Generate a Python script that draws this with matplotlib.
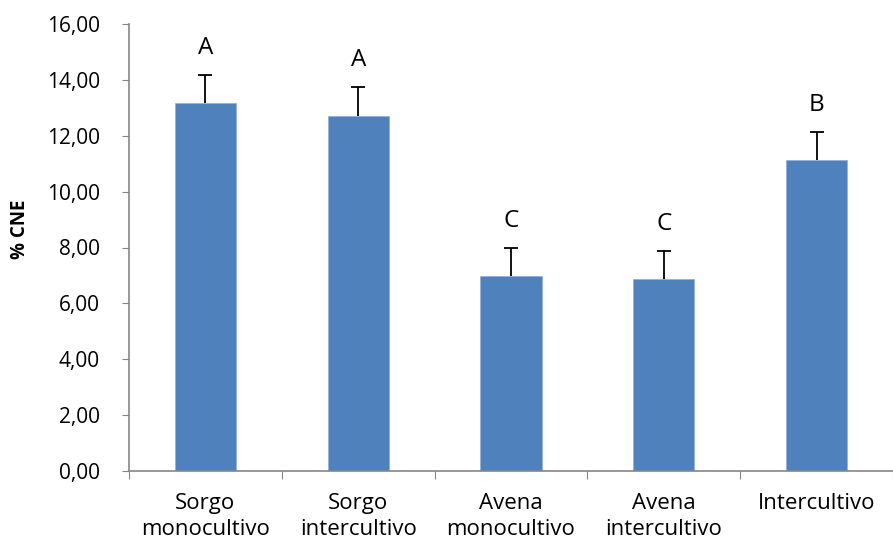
import numpy as np
import matplotlib.pyplot as plt

categorias = ['Sorgo\nmonocultivo', 'Sorgo\nintercultivo', 'Avena\nmonocultivo',
              'Avena\nintercultivo', 'Intercultivo']
valores = [13.17, 12.72, 6.99, 6.88, 11.13]
errores = [1.00, 1.02, 1.00, 1.00, 1.02]
letras = ['A', 'A', 'C', 'C', 'B']

plt.rcParams['font.family'] = ['Open Sans', 'DejaVu Sans']
gris = '#868686'

fig = plt.figure(figsize=(8.93, 5.49), dpi=100)
ax = fig.add_axes([129/893, 78/549, (893-129)/893, (471-24)/549])

x = np.arange(len(categorias))
ax.bar(x, valores, width=0.4, color='#4f81bd', edgecolor='#95b3d7', linewidth=0.6, zorder=2)
eb = ax.errorbar(x, valores, yerr=[np.zeros(len(x)), errores], fmt='none',
                 ecolor='black', elinewidth=1.3, capsize=5, capthick=1.3, zorder=3)
# solo la barra de error superior
eb[1][0].set_visible(False)

for xi, v, e, l in zip(x, valores, errores, letras):
    ax.text(xi, v + e + 0.75, l, ha='center', va='baseline', fontsize=17.5)

ax.set_xlim(-0.5, len(x) - 0.5)
ax.set_ylim(0, 16)
ax.set_yticks(np.arange(0, 17, 2))
ax.set_yticklabels([f'{t:.2f}'.replace('.', ',') for t in np.arange(0, 17, 2)], fontsize=15)
ax.set_xticks(np.arange(-0.5, len(x), 1))
ax.set_xticklabels([])
ax.set_xticks(x, minor=True)
ax.set_xticklabels(categorias, minor=True, fontsize=16)
ax.tick_params(axis='x', which='minor', length=0, pad=16)
ax.tick_params(axis='x', which='major', length=6, color=gris, direction='out')
ax.tick_params(axis='y', length=5, color=gris, direction='out', pad=16)
for lbl in ax.get_xticklabels(minor=True):
    lbl.set_linespacing(1.27)

for s in ['top', 'right']:
    ax.spines[s].set_visible(False)
for s in ['left', 'bottom']:
    ax.spines[s].set_color(gris)
    ax.spines[s].set_linewidth(1.2)

ax.set_ylabel('% CNE', fontsize=13.5, fontweight='bold')
ax.yaxis.set_label_coords(-99/764, 0.54)

fig.savefig('out.png', dpi=100)
